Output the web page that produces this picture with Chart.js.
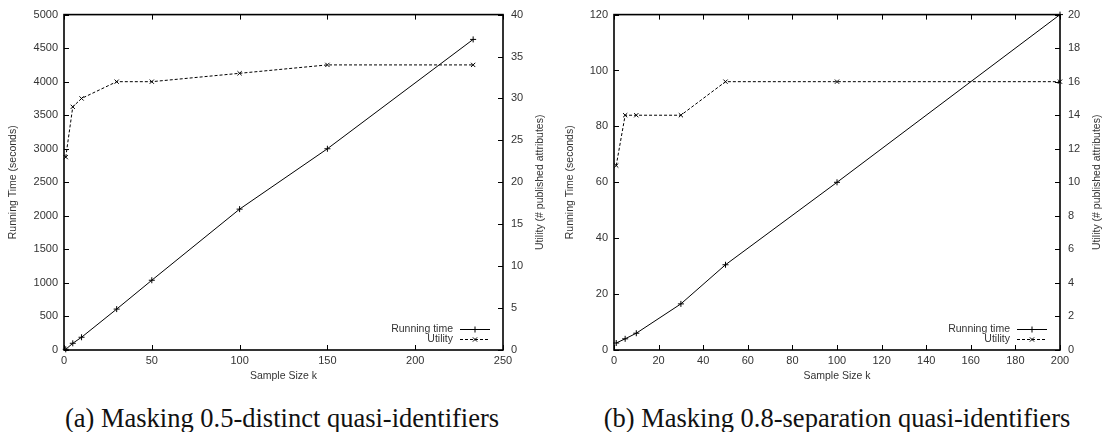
<!DOCTYPE html>
<html>
<head>
<meta charset="utf-8">
<script src="https://cdn.jsdelivr.net/npm/chart.js@4.4.0/dist/chart.umd.min.js"></script>
<style>
 body { margin: 0; width: 1107px; height: 432px; background: #fff; position: relative; overflow: hidden; }
 canvas { position: absolute; top: 0; }
 #chartA { left: 0; }
 #chartB { left: 553px; }
 .caption { position: absolute; top: 405px; height: 26.5px; line-height: 26.5px; font-family: "Liberation Serif", serif; font-size: 26.5px; color: #111; white-space: nowrap; text-align: center; }
</style>
</head>
<body>
<canvas id="chartA" width="553" height="390"></canvas>
<canvas id="chartB" width="554" height="390"></canvas>
<div class="caption" style="left:32px; width:500px;">(a) Masking 0.5-distinct quasi-identifiers</div>
<div class="caption" style="left:587px; width:500px;">(b) Masking 0.8-separation quasi-identifiers</div>
<script>
// (a) 0.5-distinct
var sizeA = [1, 5, 10, 30, 50, 100, 150, 233];
var timeA = [10, 100, 190, 610, 1040, 2100, 3000, 4630];
var utilA = [23, 29, 30, 32, 32, 33, 34, 34];
var xTicksA = [0, 50, 100, 150, 200, 250];
var yTicksA = [0, 500, 1000, 1500, 2000, 2500, 3000, 3500, 4000, 4500, 5000];
var y2TicksA = [0, 5, 10, 15, 20, 25, 30, 35, 40];

// (b) 0.8-separation
var sizeB = [1, 5, 10, 30, 50, 100, 200];
var timeB = [2.5, 4, 6, 16.5, 30.5, 60, 120];
var utilB = [11, 14, 14, 14, 16, 16, 16];
var xTicksB = [0, 20, 40, 60, 80, 100, 120, 140, 160, 180, 200];
var yTicksB = [0, 20, 40, 60, 80, 100, 120];
var y2TicksB = [0, 2, 4, 6, 8, 10, 12, 14, 16, 18, 20];

var labelFont = { family: "'Liberation Sans', Arial, sans-serif", size: 11 };
var titleFont = { family: "'Liberation Sans', Arial, sans-serif", size: 10.5 };
var textColor = "#333";

function toPoints(xs, ys) {
 return xs.map(function (x, i) {
  return { x: x, y: ys[i] };
 });
}

function fixTicks(list) {
 return function (scale) {
  scale.ticks = list.map(function (v) {
   return { value: v };
  });
 };
}

function plainLabel(v) {
 return String(v);
}

// plot frame + inward tick marks (gnuplot look)
var framePlugin = {
 id: "frame",
 afterDatasetsDraw: function (chart) {
  var ctx = chart.ctx;
  var a = chart.chartArea;
  var len = 5;
  ctx.save();
  ctx.strokeStyle = "#000";
  ctx.lineWidth = 1;
  ctx.beginPath();
  chart.scales.x.ticks.forEach(function (t) {
   var px = Math.round(chart.scales.x.getPixelForValue(t.value)) + 0.5;
   ctx.moveTo(px, a.bottom);
   ctx.lineTo(px, a.bottom - len);
   ctx.moveTo(px, a.top);
   ctx.lineTo(px, a.top + len);
  });
  chart.scales.y.ticks.forEach(function (t) {
   var py = Math.round(chart.scales.y.getPixelForValue(t.value)) + 0.5;
   ctx.moveTo(a.left, py);
   ctx.lineTo(a.left + len, py);
  });
  chart.scales.y2.ticks.forEach(function (t) {
   var py = Math.round(chart.scales.y2.getPixelForValue(t.value)) + 0.5;
   ctx.moveTo(a.right, py);
   ctx.lineTo(a.right - len, py);
  });
  ctx.stroke();
  ctx.lineWidth = 1.6;
  ctx.strokeRect(a.left, a.top, a.right - a.left, a.bottom - a.top);
  ctx.restore();
 },
};

// right-hand title reads bottom-to-top, like the left one
var y2TitlePlugin = {
 id: "y2Title",
 afterDraw: function (chart, args, opts) {
  var ctx = chart.ctx;
  var a = chart.chartArea;
  ctx.save();
  ctx.translate(a.right + opts.offset, (a.top + a.bottom) / 2);
  ctx.rotate(-Math.PI / 2);
  ctx.font = titleFont.size + "px " + titleFont.family;
  ctx.fillStyle = textColor;
  ctx.textAlign = "center";
  ctx.textBaseline = "middle";
  ctx.fillText(opts.text, 0, 0);
  ctx.restore();
 },
};

// gnuplot style key: text right aligned, sample on its right
var keyPlugin = {
 id: "key",
 afterDraw: function (chart) {
  var ctx = chart.ctx;
  var a = chart.chartArea;
  ctx.save();
  ctx.font = titleFont.size + "px " + titleFont.family;
  ctx.textAlign = "right";
  ctx.textBaseline = "middle";
  chart.data.datasets.forEach(function (ds, i) {
   var y = a.bottom - 21 + i * 10;
   var x0 = a.right - 43;
   var x1 = a.right - 13;
   ctx.fillStyle = textColor;
   ctx.fillText(ds.label, a.right - 50, y);
   ctx.strokeStyle = "#000";
   ctx.lineWidth = 1;
   ctx.setLineDash(ds.borderDash || []);
   ctx.beginPath();
   ctx.moveTo(x0, y + 0.5);
   ctx.lineTo(x1, y + 0.5);
   ctx.stroke();
   ctx.setLineDash([]);
   Chart.helpers.drawPoint(
    ctx,
    { pointStyle: ds.pointStyle, radius: 3, borderWidth: 1, rotation: 0 },
    (x0 + x1) / 2,
    y + 0.5
   );
  });
  ctx.restore();
 },
};

function makeChart(id, p) {
 var ctx = document.getElementById(id);
 return new Chart(ctx, {
  type: "line",
  data: {
   datasets: [
    {
     label: "Running time",
     data: toPoints(p.sizes, p.time),
     yAxisID: "y",
     borderColor: "#000",
     backgroundColor: "#000",
     borderWidth: 1,
     pointStyle: "cross",
     pointRadius: 3,
     pointBorderWidth: 1,
     tension: 0,
     clip: 6,
    },
    {
     label: "Utility",
     data: toPoints(p.sizes, p.util),
     yAxisID: "y2",
     borderColor: "#000",
     backgroundColor: "#000",
     borderWidth: 1,
     borderDash: [3, 2],
     pointStyle: "crossRot",
     pointRadius: 3,
     pointBorderWidth: 1,
     tension: 0,
     clip: 6,
    },
   ],
  },
  options: {
   responsive: false,
   animation: false,
   events: [],
   layout: { padding: { top: 11, left: 0, right: 0, bottom: 0 } },
   plugins: {
    legend: { display: false },
    tooltip: { enabled: false },
    y2Title: { text: "Utility (# published attributes)", offset: 37 },
   },
   scales: {
    x: {
     type: "linear",
     min: p.xTicks[0],
     max: p.xTicks[p.xTicks.length - 1],
     afterBuildTicks: fixTicks(p.xTicks),
     afterFit: function (s) {
      s.height = 40;
     },
     grid: { display: false, drawTicks: false },
     border: { display: false },
     ticks: { font: labelFont, color: textColor, padding: 4, maxRotation: 0, callback: plainLabel },
     title: {
      display: true,
      text: "Sample Size k",
      font: titleFont,
      color: textColor,
      padding: { top: 0, bottom: 7.7 },
     },
    },
    y: {
     position: "left",
     min: p.yTicks[0],
     max: p.yTicks[p.yTicks.length - 1],
     afterBuildTicks: fixTicks(p.yTicks),
     afterFit: function (s) {
      s.width = p.leftWidth;
     },
     grid: { display: false, drawTicks: false },
     border: { display: false },
     ticks: { font: labelFont, color: textColor, padding: 6, callback: plainLabel },
     title: {
      display: true,
      text: "Running Time (seconds)",
      font: titleFont,
      color: textColor,
      padding: { top: p.leftTitlePad, bottom: 0 },
     },
    },
    y2: {
     position: "right",
     min: p.y2Ticks[0],
     max: p.y2Ticks[p.y2Ticks.length - 1],
     afterBuildTicks: fixTicks(p.y2Ticks),
     afterFit: function (s) {
      s.width = p.rightWidth;
     },
     grid: { display: false, drawTicks: false },
     border: { display: false },
     ticks: { font: labelFont, color: textColor, padding: 8, callback: plainLabel },
    },
   },
  },
  plugins: [framePlugin, y2TitlePlugin, keyPlugin],
 });
}

makeChart("chartA", {
 sizes: sizeA,
 time: timeA,
 util: utilA,
 xTicks: xTicksA,
 yTicks: yTicksA,
 y2Ticks: y2TicksA,
 leftWidth: 64,
 rightWidth: 50,
 leftTitlePad: 6.7,
});

makeChart("chartB", {
 sizes: sizeB,
 time: timeB,
 util: utilB,
 xTicks: xTicksB,
 yTicks: yTicksB,
 y2Ticks: y2TicksB,
 leftWidth: 61,
 rightWidth: 47,
 leftTitlePad: 10.7,
});
</script>
</body>
</html>
